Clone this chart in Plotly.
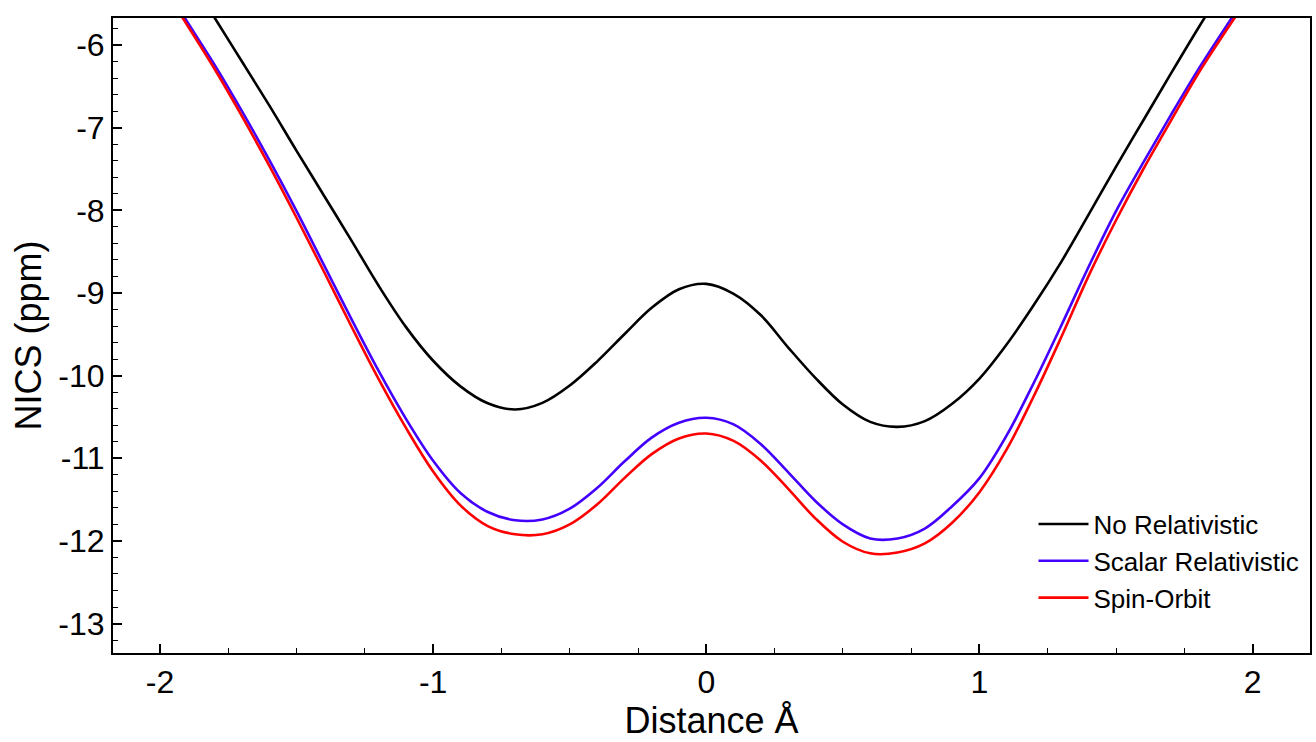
import plotly.graph_objects as go

distance = [-2.0, -1.9, -1.8, -1.7, -1.6, -1.5, -1.4, -1.3, -1.2, -1.1, -1.0,
            -0.9, -0.8, -0.7, -0.6, -0.5, -0.4, -0.3, -0.2, -0.1, 0.0,
            0.1, 0.2, 0.3, 0.4, 0.5, 0.6, 0.7, 0.8, 0.9, 1.0,
            1.1, 1.2, 1.3, 1.4, 1.5, 1.6, 1.7, 1.8, 1.9, 2.0]

no_relativistic = [-4.63, -5.15, -5.67, -6.20, -6.73, -7.28, -7.82, -8.36, -8.91, -9.41, -9.82,
                   -10.13, -10.335, -10.41, -10.33, -10.12, -9.83, -9.50, -9.18, -8.955, -8.89,
                   -9.01, -9.27, -9.66, -10.03, -10.35, -10.56, -10.62, -10.55, -10.34, -10.035,
                   -9.62, -9.14, -8.62, -8.05, -7.47, -6.91, -6.35, -5.80, -5.27, -4.76]

scalar_relativistic = [-5.20, -5.72, -6.24, -6.80, -7.39, -8.01, -8.66, -9.31, -9.94, -10.52, -11.03,
                       -11.42, -11.65, -11.75, -11.74, -11.61, -11.36, -11.04, -10.75, -10.57, -10.51,
                       -10.59, -10.83, -11.17, -11.52, -11.80, -11.97, -11.97, -11.85, -11.58, -11.24,
                       -10.72, -10.08, -9.39, -8.68, -8.01, -7.42, -6.85, -6.30, -5.79, -5.30]

spin_orbit = [-5.25, -5.76, -6.29, -6.86, -7.46, -8.09, -8.74, -9.40, -10.04, -10.63, -11.16,
              -11.57, -11.82, -11.92, -11.92, -11.80, -11.56, -11.24, -10.95, -10.76, -10.70,
              -10.79, -11.03, -11.37, -11.73, -12.01, -12.15, -12.14, -12.03, -11.78, -11.41,
              -10.89, -10.24, -9.53, -8.79, -8.12, -7.50, -6.92, -6.35, -5.84, -5.35]

x_ticks = [-2, -1, 0, 1, 2]
y_ticks = [-6, -7, -8, -9, -10, -11, -12, -13]

FONT = "Liberation Sans, Arial, Helvetica, sans-serif"

fig = go.Figure()
series = [
    ("No Relativistic", no_relativistic, "#000000"),
    ("Scalar Relativistic", scalar_relativistic, "#4400FF"),
    ("Spin-Orbit", spin_orbit, "#FF0000"),
]
for name, ys, col in series:
    fig.add_trace(go.Scatter(x=distance, y=ys, mode="lines", name=name,
                             line=dict(color=col, width=2.6, shape="spline", smoothing=1.0)))

fig.update_layout(
    width=1316, height=742,
    margin=dict(l=113, r=4, t=18, b=89),
    paper_bgcolor="white", plot_bgcolor="white",
    font=dict(family=FONT, color="black"),
    legend=dict(x=0.769, y=0.240, xanchor="left", yanchor="top",
                bgcolor="rgba(0,0,0,0)", font=dict(size=26, family=FONT),
                itemwidth=50, tracegroupgap=0),
    showlegend=True,
)
fig.update_xaxes(
    range=[-2.172, 2.210], tickvals=x_ticks, ticktext=[str(v) for v in x_ticks],
    ticks="inside", ticklen=9, tickwidth=1.5, tickcolor="black",
    minor=dict(dtick=0.25, tick0=0, ticks="inside", ticklen=5, tickwidth=1.2, tickcolor="black"),
    showline=True, linecolor="black", linewidth=2, mirror=True,
    showgrid=False, zeroline=False,
    tickfont=dict(size=32, family=FONT),
    title=dict(text="Distance Å", font=dict(size=36, family=FONT), standoff=6),
)
fig.update_yaxes(
    range=[-13.356, -5.673], tickvals=y_ticks, ticktext=[str(v) for v in y_ticks],
    ticks="inside", ticklen=9, tickwidth=1.5, tickcolor="black",
    minor=dict(dtick=0.2, tick0=0, ticks="inside", ticklen=5, tickwidth=1.2, tickcolor="black"),
    showline=True, linecolor="black", linewidth=2, mirror=True,
    showgrid=False, zeroline=False,
    tickfont=dict(size=32, family=FONT),
    title=dict(text="NICS (ppm)", font=dict(size=36, family=FONT), standoff=6),
)

fig.write_html("out.html")
